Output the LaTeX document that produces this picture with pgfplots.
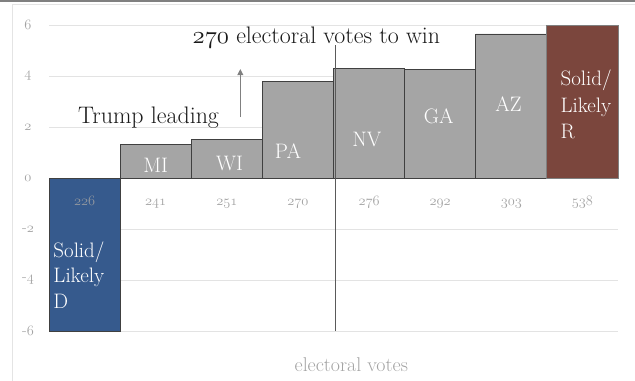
\documentclass[border=0pt]{standalone}
\usepackage{pgfplots}
\pgfplotsset{compat=1.18}
\usetikzlibrary{arrows.meta}

% old-style figures from the Latin Modern math italic font
\newcommand\osf[1]{\mbox{\usefont{OML}{lmm}{m}{it}#1}}

\definecolor{barGray}{HTML}{A5A5A5}
\definecolor{barEdge}{HTML}{404040}
\definecolor{demBlue}{HTML}{365A8D}
\definecolor{repRed}{HTML}{7B463D}
\definecolor{gridGray}{HTML}{E3E3E3}
\definecolor{tickGray}{HTML}{A3A3A3}
\definecolor{frameGray}{HTML}{E4E4E4}
\definecolor{lineGray}{HTML}{5A5A5A}

\begin{document}
\begin{tikzpicture}
\begin{axis}[
  name=ax,
  scale only axis, width=569bp, height=306bp,
  xmin=-0.5, xmax=7.5, ymin=-6, ymax=6, enlargelimits=false,
  axis x line*=middle, axis y line*=left,
  hide obscured x ticks=false, hide obscured y ticks=false,
  x axis line style={draw=gridGray!80!black, line width=0.8pt},
  y axis line style={draw=none},
  major tick length=0pt,
  ytick={-6,-4,-2,0,2,4,6},
  yticklabels={-\osf{6},-\osf{4},-\osf{2},\osf{0},\osf{2},\osf{4},\osf{6}},
  xtick={0,1,2,3,4,5,6,7},
  xticklabels={},
  ymajorgrids, grid style={gridGray, line width=0.8pt},
  yticklabel style={anchor=center, xshift=-21bp, text=tickGray,
    font=\fontsize{15.5}{17}\selectfont},
  clip=false,
]
% Solid/Likely D
\addplot[ybar, bar width=1, bar shift=0pt, fill=demBlue, draw=barEdge, line width=0.8pt]
  coordinates {(0,-6)};
% battleground states, Trump margin
\addplot[ybar, bar width=1, bar shift=0pt, fill=barGray, draw=barEdge, line width=0.8pt]
  coordinates {(1,1.3) (2,1.5) (3,3.8) (4,4.3) (5,4.25) (6,5.65)};
% Solid/Likely R
\addplot[ybar, bar width=1, bar shift=0pt, fill=repRed, draw=gray, line width=0.8pt]
  coordinates {(7,6)};

% cumulative electoral votes, set just under the zero line
\begin{scope}[every node/.style={anchor=base, text=tickGray, font=\fontsize{15.5}{17}\selectfont}]
\node[text=tickGray!85!demBlue] at (axis cs:0,-1.06) {\osf{226}};
\node at (axis cs:1,-1.06) {\osf{241}};
\node at (axis cs:2,-1.06) {\osf{251}};
\node at (axis cs:3,-1.06) {\osf{270}};
\node at (axis cs:4,-1.06) {\osf{276}};
\node at (axis cs:5,-1.06) {\osf{292}};
\node at (axis cs:6,-1.06) {\osf{303}};
\node at (axis cs:7,-1.06) {\osf{538}};
\end{scope}

% 270 threshold
\draw[lineGray, line width=0.9pt] (axis cs:3.53,-6) -- (axis cs:3.53,5.2);
\node[anchor=base, font=\fontsize{24}{26}\selectfont, text=black!90]
  at (axis cs:3.26,5.29) {\osf{270} electoral votes to win};
\node[anchor=base, font=\fontsize{24}{26}\selectfont, text=black!90]
  at (axis cs:0.90,2.12) {Trump leading};
\draw[-{Triangle[length=6bp,width=6bp]}, gray, line width=0.9pt]
  (axis cs:2.19,2.39) -- (axis cs:2.19,4.27);

% state labels
\begin{scope}[every node/.style={anchor=base, text=white, font=\fontsize{21}{23}\selectfont}]
\node at (axis cs:1.00,0.20) {MI};
\node at (axis cs:2.04,0.31) {WI};
\node at (axis cs:2.86,0.75) {PA};
\node at (axis cs:3.97,1.22) {NV};
\node at (axis cs:4.98,2.12) {GA};
\node at (axis cs:5.96,2.59) {AZ};
\end{scope}
\begin{scope}[every node/.style={anchor=base west, inner sep=0pt, text=white, font=\fontsize{21}{23}\selectfont}]
\node at (axis cs:6.69,3.61) {Solid/};
\node at (axis cs:6.69,2.55) {Likely};
\node at (axis cs:6.69,1.53) {R};
\node at (axis cs:-0.44,-3.10) {Solid/};
\node at (axis cs:-0.44,-4.08) {Likely};
\node at (axis cs:-0.44,-5.10) {D};
\end{scope}

% axis title
\node[anchor=base, font=\fontsize{20}{22}\selectfont, text=tickGray]
  at (axis cs:3.75,-7.58) {electoral votes};
\end{axis}

\coordinate (O) at ([shift={(-49bp,-50bp)}]ax.south west);
\draw[frameGray, line width=1pt]
  ([shift={(12bp,0bp)}]O) -- ([shift={(12bp,376bp)}]O) -- ([shift={(635bp,376bp)}]O);
\fill[gray] ([shift={(0bp,378.8bp)}]O) rectangle ([shift={(635bp,381bp)}]O);

\pgfresetboundingbox
\path[use as bounding box] (O) rectangle ([shift={(635bp,381bp)}]O);
\end{tikzpicture}
\end{document}
